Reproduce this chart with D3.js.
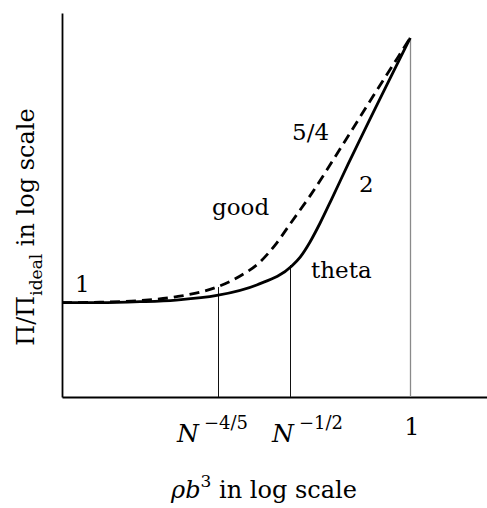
<!DOCTYPE html>
<html>
<head>
<meta charset="utf-8">
<script src="https://cdn.jsdelivr.net/npm/d3@7"></script>
<style>
  html, body { margin: 0; padding: 0; background: #fff; }
  svg { display: block; }
  text { font-family: "DejaVu Serif", "Liberation Serif", serif; fill: #000; }
</style>
</head>
<body>
<svg id="chart" width="487" height="508"></svg>
<script>
// ---- data (x: log(rho b^3) in units of log N ; y: log(Pi/Pi_ideal) in units of log N) ----
const thetaX = [-1.45, -1.292, -1.125, -0.975, -0.805, -0.639, -0.493, -0.458, -0.417, -0.375, -0.325, -0.258, 0];
const thetaY = [0, 0, 0.004, 0.011, 0.030, 0.074, 0.153, 0.190, 0.253, 0.332, 0.436, 0.578, 1.103];

const goodX = [-1.45, -1.292, -1.125, -0.972, -0.805, -0.708, -0.625, -0.5625, -0.5, -0.417, -0.271, -0.154, -0.05, 0];
const goodY = [0, 0.002, 0.009, 0.025, 0.065, 0.111, 0.170, 0.240, 0.328, 0.445, 0.674, 0.861, 1.024, 1.103];

const tickValues = [-0.8, -0.5, 0];
const tickBase = ["N", "N", "1"];
const tickExp = ["\u22124/5", "\u22121/2", ""];
const guideTop = [0.065, 0.157, 1.103];

const xDomain = [-1.45, 0.32];
const yDomain = [-0.393, 1.207];

// ---- layout ----
const svg = d3.select("#chart");
const plot = { left: 62, right: 487, top: 13, bottom: 397 };

const x = d3.scaleLinear().domain(xDomain).range([plot.left, plot.right]);
const y = d3.scaleLinear().domain(yDomain).range([plot.bottom, plot.top]);

// axes (lines only)
svg.append("g").attr("transform", `translate(${plot.left},0)`)
  .call(d3.axisLeft(y).tickValues([]).tickSizeOuter(0));
svg.append("g").attr("transform", `translate(0,${plot.bottom})`)
  .call(d3.axisBottom(x).tickValues([]).tickSizeOuter(0));
svg.selectAll(".domain").attr("stroke", "#000").attr("stroke-width", 1.8);

// guide lines
const guideColor = ["#111", "#111", "#8a8a8a"];
const guideWidth = [1, 1, 1.3];
svg.append("g").selectAll("line").data(tickValues).join("line")
  .attr("x1", d => Math.round(x(d)) + 0.5).attr("x2", d => Math.round(x(d)) + 0.5)
  .attr("y1", (d, i) => y(guideTop[i]))
  .attr("y2", plot.bottom)
  .attr("stroke", (d, i) => guideColor[i])
  .attr("stroke-width", (d, i) => guideWidth[i]);

// curves
const line = d3.line().x(d => x(d[0])).y(d => y(d[1])).curve(d3.curveMonotoneX);
svg.append("path")
  .datum(goodX.map((v, i) => [v, goodY[i]]))
  .attr("d", line).attr("fill", "none").attr("stroke", "#000")
  .attr("stroke-width", 2.8).attr("stroke-dasharray", "10,6");
svg.append("path")
  .datum(thetaX.map((v, i) => [v, thetaY[i]]))
  .attr("d", line).attr("fill", "none").attr("stroke", "#000")
  .attr("stroke-width", 2.8);

// tick labels
const tickDx = [-41, -18, -6];
tickValues.forEach((v, i) => {
  if (tickExp[i]) {
    const t = svg.append("text").attr("x", x(v) + tickDx[i]).attr("y", 442);
    t.append("tspan").attr("font-style", "italic").attr("font-size", 25).text(tickBase[i]);
    t.append("tspan").attr("font-size", 18).attr("dx", 5).attr("dy", -13).text(tickExp[i]);
  } else {
    svg.append("text").attr("x", x(v) + tickDx[i]).attr("y", 435)
      .attr("font-size", 24).text(tickBase[i]);
  }
});

// annotations
const fs = 23;
const ann = [
  { t: "1", px: 75, py: 292 },
  { t: "good", px: 212, py: 215 },
  { t: "5/4", px: 292, py: 140 },
  { t: "2", px: 359, py: 192 },
  { t: "theta", px: 311, py: 278 }
];
svg.append("g").selectAll("text").data(ann).join("text")
  .attr("x", d => d.px).attr("y", d => d.py)
  .attr("font-size", fs).text(d => d.t);

// x axis title
const xt = svg.append("text").attr("x", 264).attr("y", 498)
  .attr("text-anchor", "middle").attr("font-size", 24);
xt.append("tspan").attr("font-style", "italic").text("\u03C1b");
xt.append("tspan").attr("font-size", 17).attr("dy", -11).text("3");
xt.append("tspan").attr("dy", 11).text(" in log scale");

// y axis title
const yt = svg.append("text")
  .attr("transform", "translate(34,227) rotate(-90)")
  .attr("text-anchor", "middle").attr("font-size", 24);
yt.append("tspan").text("\u03A0/\u03A0");
yt.append("tspan").attr("font-size", 17).attr("dy", 8).text("ideal");
yt.append("tspan").attr("dy", -8).text(" in log scale");
</script>
</body>
</html>
